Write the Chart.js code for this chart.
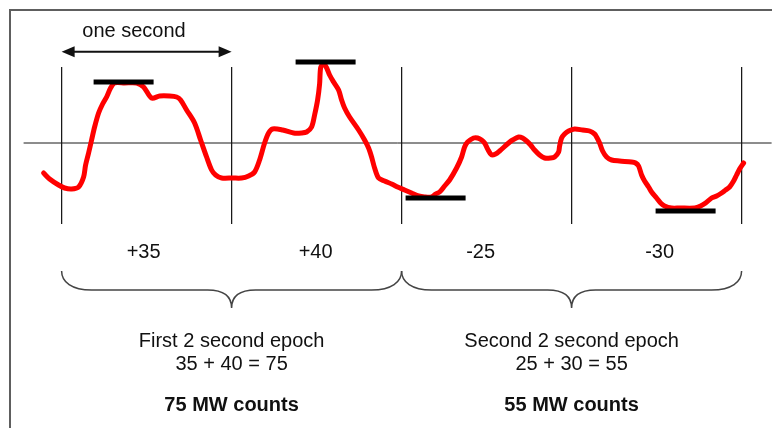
<!DOCTYPE html>
<html><head><meta charset="utf-8">
<script src="https://cdn.jsdelivr.net/npm/chart.js@4.4.1/dist/chart.umd.min.js"></script>
<style>html,body{margin:0;padding:0;background:#fff}#wrap{width:772px;height:428px}</style>
</head><body><div id="wrap"><canvas id="c" width="772" height="428"></canvas></div>
<script>
// ---- data ----
const sampleRate = 170; // samples per second
const secondMarks = [0, 1, 2, 3, 4];
const eegSample = [-18,-12,-3,3,10,17,22,24,27,30,33,37,41,45,49,53,63,75,82,90,98,108,115,119,125,133,139,145,150,154,160,171,180,187,193,198,203,207,211,221,232,240,245,250,253,256,258,259,261,264,268,272,277,280,283,288,297,303,307,310,313,317,323,330,336,343,350,357,363,370,374,378,383,388,395,400,403,406,412,416,420,423,426,430,434,438,447,451,457,461,465,469,473,478,483,489,493,497,498,500,503,507,513,521,528,533,535,538,541,545,550,558,570,574,577,580,583,587,590,595,599,603,610,618,633,639,644,650,655,660,664,668,672,675,678,682];
const eegAmplitude = [-30,-36,-42,-45,-46,-44,-34,-22,-10,3,16,30,39,46,55,60,60,60,56,45,47,47,46,43,33,20,3,-14,-27,-32,-35,-35,-35,-33,-29,-17,0,10,14,13,10,10,11,16,28,43,59,75,78,77,68,61,53,43,35,26,13,3,-5,-14,-25,-35,-38,-41,-44,-47,-50,-53,-54,-54,-51,-49,-43,-37,-25,-14,-4,1,5,5,3,0,-6,-12,-11,-8,0,3,6,5,2,-2,-7,-12,-15,-15,-14,-9,-3,5,9,12,14,13,12,9,6,0,-8,-14,-17,-18,-19,-20,-23,-32,-38,-44,-49,-55,-60,-63,-65,-65,-65,-63,-60,-55,-53,-50,-47,-44,-38,-32,-26,-20];
const peakLabels = ['+35', '+40', '-25', '-30'];
const peakStart = [32, 234, 344, 594];
const peakEnd = [92, 294, 404, 654];
const peakLevel = [61, 81, -55, -68];
const epochTitles = ['First 2 second epoch', 'Second 2 second epoch'];
const epochSums = ['35 + 40 = 75', '25 + 30 = 55'];
const epochCounts = ['75 MW counts', '55 MW counts'];
const arrowLabel = 'one second';

// ---- layout (not data) ----
const L = {
  xMin: -61.6, xMax: 710.4, yMin: -285, yMax: 143,
  markTop: 76, markBottom: -81, zeroFrom: -38, zeroTo: 710,
  peakLabelX: [82, 254, 419, 598], peakLabelY: 258,
  arrowY: 51.7, arrowLabelX: 134, arrowLabelY: 36.5,
  braceTop: 271, braceMid: 290, braceTip: 308,
  titleY: 347, sumY: 370, countY: 411,
  font: '"Liberation Sans", Arial, Helvetica, sans-serif'
};

const eegPoints = eegSample.map((s, i) => ({x: s, y: eegAmplitude[i]}));
const barPoints = [];
peakLevel.forEach((v, i) => { barPoints.push({x: peakStart[i], y: v}, {x: peakEnd[i], y: v}, {x: peakEnd[i] + 1, y: null}); });
const markPoints = [];
secondMarks.forEach(s => { markPoints.push({x: s * sampleRate, y: L.markTop}, {x: s * sampleRate, y: L.markBottom}, {x: s * sampleRate + 1, y: null}); });
const zeroPoints = [{x: L.zeroFrom, y: 0}, {x: L.zeroTo, y: 0}];

const overlay = {
  id: 'overlay',
  beforeDatasetsDraw(chart) {
    const ctx = chart.ctx;
    ctx.save();
    ctx.strokeStyle = '#5e5e5e';
    ctx.lineWidth = 2;
    ctx.beginPath();
    ctx.moveTo(10, 428); ctx.lineTo(10, 10); ctx.lineTo(772, 10);
    ctx.stroke();
    ctx.restore();
  },
  afterDatasetsDraw(chart) {
    const ctx = chart.ctx, xs = chart.scales.x;
    const px = s => xs.getPixelForValue(s);
    ctx.save();
    // arrow
    const a1 = px(secondMarks[0] * sampleRate), a2 = px(secondMarks[1] * sampleRate);
    ctx.strokeStyle = '#111'; ctx.fillStyle = '#111'; ctx.lineWidth = 2;
    ctx.beginPath(); ctx.moveTo(a1 + 8, L.arrowY); ctx.lineTo(a2 - 8, L.arrowY); ctx.stroke();
    ctx.beginPath(); ctx.moveTo(a1, L.arrowY); ctx.lineTo(a1 + 13, L.arrowY - 5.5); ctx.lineTo(a1 + 13, L.arrowY + 5.5); ctx.closePath(); ctx.fill();
    ctx.beginPath(); ctx.moveTo(a2, L.arrowY); ctx.lineTo(a2 - 13, L.arrowY - 5.5); ctx.lineTo(a2 - 13, L.arrowY + 5.5); ctx.closePath(); ctx.fill();
    // texts
    ctx.textAlign = 'center'; ctx.textBaseline = 'alphabetic';
    ctx.font = '20px ' + L.font;
    ctx.fillText(arrowLabel, L.arrowLabelX, L.arrowLabelY);
    peakLabels.forEach((t, i) => ctx.fillText(t, px(L.peakLabelX[i]), L.peakLabelY));
    // braces
    ctx.strokeStyle = '#444'; ctx.lineWidth = 1.5;
    epochTitles.forEach((t, i) => {
      const x1 = px(secondMarks[2 * i] * sampleRate), xm = px(secondMarks[2 * i + 1] * sampleRate), x2 = px(secondMarks[2 * i + 2] * sampleRate);
      const yT = L.braceTop, yM = L.braceMid, yP = L.braceTip;
      ctx.beginPath();
      ctx.moveTo(x1, yT);
      ctx.bezierCurveTo(x1, yM - 8, x1 + 10, yM, x1 + 30, yM);
      ctx.lineTo(xm - 24, yM);
      ctx.bezierCurveTo(xm - 8, yM, xm, yM + 6, xm, yP);
      ctx.bezierCurveTo(xm, yM + 6, xm + 8, yM, xm + 24, yM);
      ctx.lineTo(x2 - 30, yM);
      ctx.bezierCurveTo(x2 - 10, yM, x2, yM - 8, x2, yT);
      ctx.stroke();
      ctx.font = '20px ' + L.font;
      ctx.fillText(t, xm, L.titleY);
      ctx.fillText(epochSums[i], xm, L.sumY);
      ctx.font = 'bold 20px ' + L.font;
      ctx.fillText(epochCounts[i], xm, L.countY);
    });
    ctx.restore();
  }
};

new Chart(document.getElementById('c'), {
  type: 'line',
  data: {
    datasets: [
      {label: 'peaks', data: barPoints, borderColor: '#000', borderWidth: 5, borderCapStyle: 'butt', pointRadius: 0, spanGaps: false, order: 0},
      {label: 'EEG', data: eegPoints, borderColor: '#ff0000', borderWidth: 5, pointRadius: 0, tension: 0.3, borderJoinStyle: 'round', borderCapStyle: 'round', order: 1},
      {label: 'seconds', data: markPoints, borderColor: '#1a1a1a', borderWidth: 1, pointRadius: 0, spanGaps: false, order: 2},
      {label: 'zero', data: zeroPoints, borderColor: '#1a1a1a', borderWidth: 1, pointRadius: 0, order: 3}
    ]
  },
  options: {
    responsive: false, animation: false, events: [],
    layout: {padding: 0, autoPadding: false},
    plugins: {legend: {display: false}, tooltip: {enabled: false}},
    scales: {
      x: {type: 'linear', display: false, min: L.xMin, max: L.xMax},
      y: {type: 'linear', display: false, min: L.yMin, max: L.yMax}
    }
  },
  plugins: [overlay]
});
</script>
</body></html>
